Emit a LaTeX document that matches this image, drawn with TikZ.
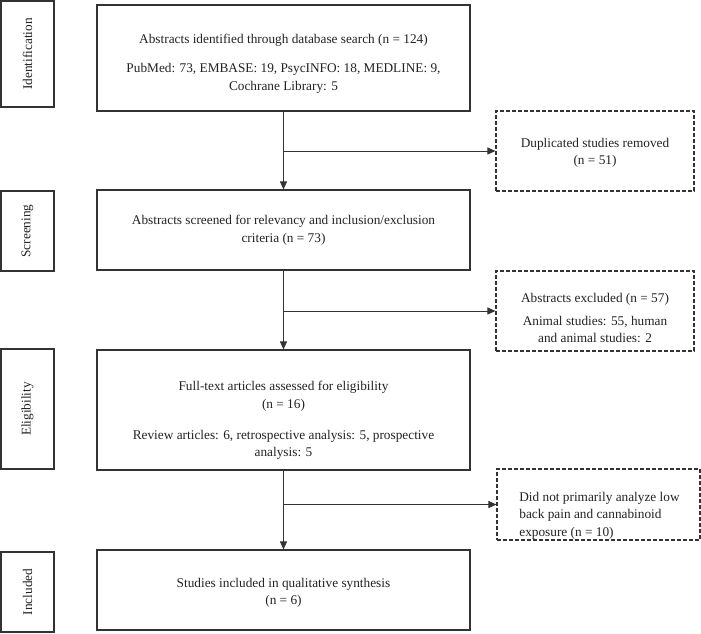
\documentclass[tikz,border=0pt]{standalone}
\usepackage{fontspec}
\setmainfont{Liberation Serif}
\usetikzlibrary{arrows.meta}
\definecolor{ln}{HTML}{333333}
\definecolor{tx}{HTML}{222222}
\tikzset{
  base/.style={draw=ln, line width=1.1pt, inner sep=0pt, text=tx,
    font=\fontsize{13.3}{17.5}\selectfont},
  stage/.style={base, rotate=90, minimum height=53pt},
  mainbox/.style={base, minimum width=373pt, align=center},
  sidebox/.style={base, dash pattern=on 4pt off 2pt, align=center},
  arr/.style={draw=ln, line width=0.9pt, -{Triangle[length=8pt,width=7pt]}},
}
\begin{document}
\begin{tikzpicture}[x=1pt,y=-1pt]
\useasboundingbox (0,0) rectangle (701,633);
% stage labels
\node[stage, minimum width=106pt] (s1) at (27.5,54) {Identification};
\node[stage, minimum width=80pt] (s2) at (27.5,231) {Screening};
\node[stage, minimum width=120pt] (s3) at (27.5,409) {Eligibility};
\node[stage, minimum width=80pt] (s4) at (27.5,592) {Included};
% main boxes
\node[mainbox, minimum height=106pt] (b1) at (283.5,58) {\rule{0pt}{20.5pt}Abstracts identified through database search (n = 124)\\[11.5pt]PubMed: 73, EMBASE: 19, PsycINFO: 18, MEDLINE: 9,\\Cochrane Library: 5};
\node[mainbox, minimum height=80pt] (b2) at (283.5,230) {Abstracts screened for relevancy and inclusion/exclusion\\criteria (n = 73)};
\node[mainbox, minimum height=120pt] (b3) at (283.5,410) {\rule{0pt}{30pt}Full-text articles assessed for eligibility\\(n = 16)\\[13.5pt]Review articles: 6, retrospective analysis: 5, prospective\\analysis: 5};
\node[mainbox, minimum height=80pt] (b4) at (283.5,590) {\rule{0pt}{15pt}Studies included in qualitative synthesis\\(n = 6)};
% side boxes
\node[sidebox, minimum width=198pt, minimum height=80pt] (r1) at (595,151) {\rule{0pt}{13pt}Duplicated studies removed\\(n = 51)};
\node[sidebox, minimum width=198pt, minimum height=80pt] (r2) at (595,311) {\rule{0pt}{23pt}Abstracts excluded (n = 57)\\[5.5pt]Animal studies: 55, human\\and animal studies: 2};
\node[sidebox, minimum width=203pt, minimum height=71pt, align=left] (r3) at (598.5,504.5) {\rule{0pt}{31pt}\hspace*{2pt}Did not primarily analyze low\\\hspace*{2pt}back pain and cannabinoid\\\hspace*{2pt}exposure (n = 10)};
% connectors
\draw[arr] (b1) -- (b2);
\draw[arr] (b2) -- (b3);
\draw[arr] (b3) -- (b4);
\draw[arr] (b1.south |- r1.west) -- (r1.west);
\draw[arr] (b2.south |- r2.west) -- (r2.west);
\draw[arr] (b3.south |- r3.west) -- (r3.west);
\end{tikzpicture}
\end{document}
